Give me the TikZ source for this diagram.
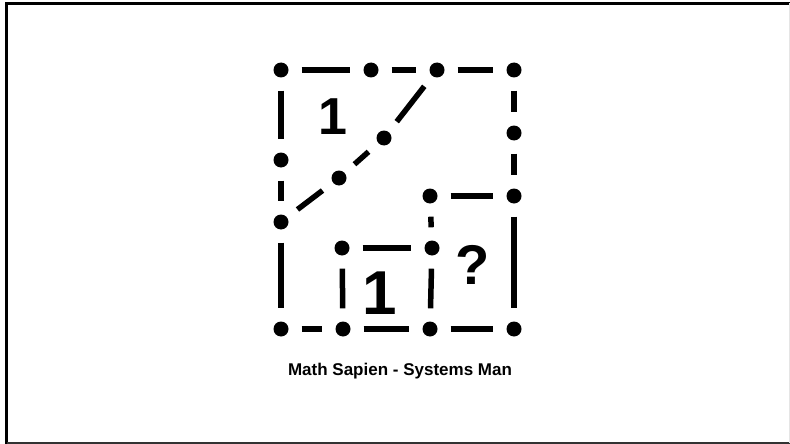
\documentclass[tikz,border=0pt]{standalone}
\usepackage{fontspec}
\setmainfont{Liberation Sans}
\begin{document}
\begin{tikzpicture}[x=1pt,y=-1pt,
  dot/.style={circle,fill=black,inner sep=0pt,minimum size=15pt},
  seg/.style={line width=5.5pt,shorten >=13pt,shorten <=13pt},
  digit/.style={font=\bfseries\fontsize{#1}{#1}\selectfont,inner sep=0pt}]
\useasboundingbox (0,0) rectangle (790,444);
\draw[line width=3pt] (6.5,444) -- (6.5,3.5) -- (790,3.5);
\draw[line width=2pt,black!80] (6.5,442.5) -- (790,442.5);
\draw[line width=1pt,black!10] (789.5,3.5) -- (789.5,442.5);
% dots
\node[dot] (t1) at (281,70) {};
\node[dot] (t2) at (371,70) {};
\node[dot] (t3) at (437,70) {};
\node[dot] (t4) at (514,70) {};
\node[dot] (l2) at (281,160) {};
\node[dot] (l3) at (281,222) {};
\node[dot] (b1) at (281,329) {};
\node[dot] (r2) at (514,133) {};
\node[dot] (r3) at (514,196) {};
\node[dot] (b4) at (514,329) {};
\node[dot] (d1) at (384,138) {};
\node[dot] (d2) at (339,178) {};
\node[dot] (m1) at (430,196) {};
\node[dot] (s1) at (342,248) {};
\node[dot] (s2) at (432,248) {};
\node[dot] (b2) at (343,329) {};
\node[dot] (b3) at (430,329) {};
% segments
\draw[seg] (t1) -- (t2);
\draw[seg] (t2) -- (t3);
\draw[seg] (t3) -- (t4);
\draw[seg] (t1) -- (l2);
\draw[seg] (l2) -- (l3);
\draw[seg] (l3) -- (b1);
\draw[seg] (t4) -- (r2);
\draw[seg] (r2) -- (r3);
\draw[seg] (r3) -- (b4);
\draw[seg] (b1) -- (b2);
\draw[seg] (b2) -- (b3);
\draw[seg] (b3) -- (b4);
\draw[seg] (t3) -- (d1);
\draw[seg] (d1) -- (d2);
\draw[seg] (d2) -- (l3);
\draw[seg] (m1) -- (r3);
\draw[seg] (m1) -- (s2);
\draw[seg] (s1) -- (s2);
\draw[seg] (s1) -- (b2);
\draw[seg] (s2) -- (b3);
% labels
\node[digit=52pt,anchor=base] (one1) at (333,134) {1};
\node[digit=62pt,anchor=base] (one2) at (380,314) {1};
\node[digit=56pt,anchor=base] (q) at (473,284) {?};
\node[font=\bfseries\fontsize{17pt}{19pt}\selectfont,anchor=base] (cap) at (400,375) {Math Sapien - Systems Man};
\end{tikzpicture}
\end{document}
